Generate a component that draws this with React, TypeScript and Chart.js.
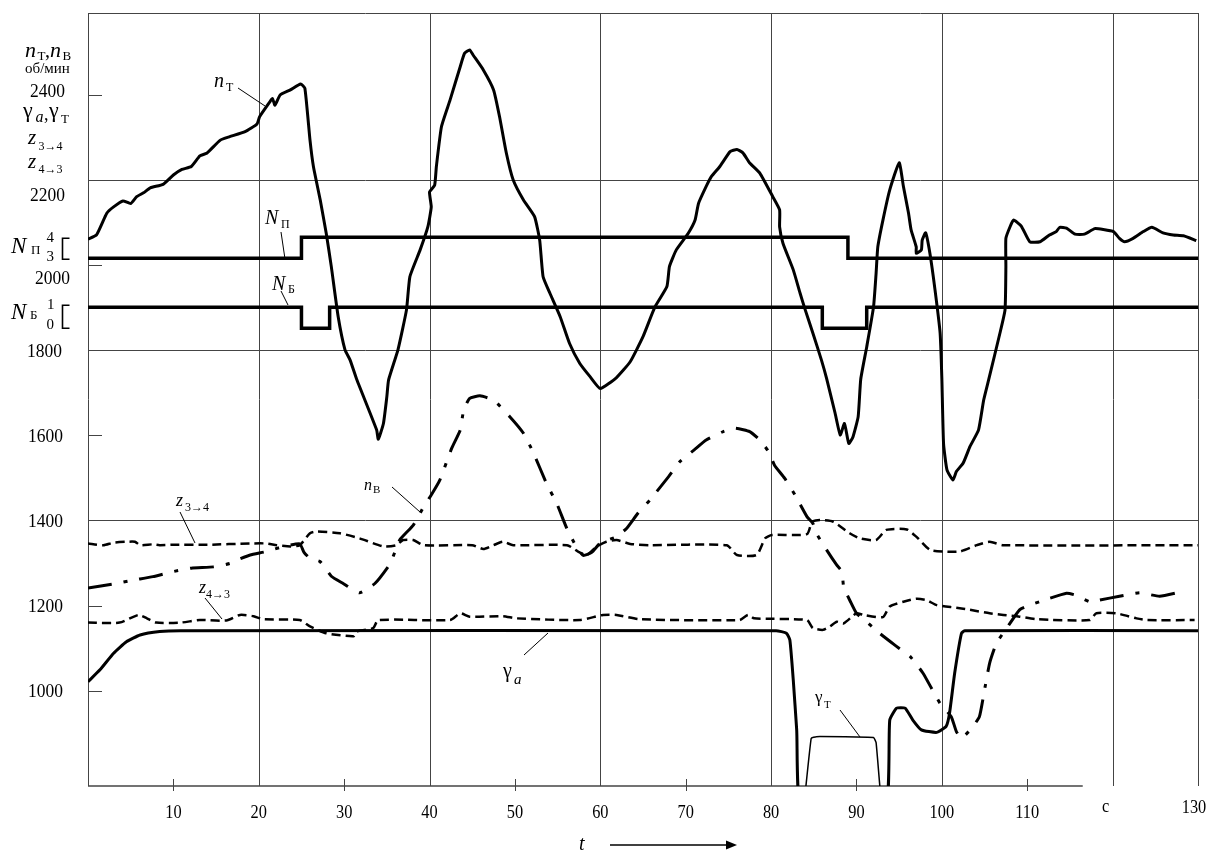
import React, { useEffect, useRef } from "react";
import { Chart, registerables } from "chart.js";

Chart.register(...registerables);

// ---------- data (t in seconds, values in chart units) ----------
const nT_t = [0,1.0,2.2,3.0,4.1,5.0,5.7,6.5,7.3,8.8,10.0,11.0,12.1,13.1,13.9,15.5,16.6,18.4,19.8,20.1,21.3,21.6,21.9,22.5,23.7,24.9,25.4,26.0,26.4,27.2,27.9,28.5,29.3,30.1,30.7,31.5,33.8,34.0,34.6,35.0,35.2,36.3,37.3,37.7,38.9,39.8,40.2,40.0,40.6,40.8,41.4,42.4,43.6,44.1,44.7,45.1,46.3,47.5,48.2,49.0,49.8,51.0,52.3,52.9,53.3,54.1,55.3,56.4,57.6,58.8,60.0,61.9,63.5,65.0,66.4,67.8,68.1,68.9,70.3,71.1,71.5,72.4,73.0,74.0,75.2,76.0,76.7,77.5,78.7,80.2,81.0,81.0,81.4,82.6,83.4,84.0,84.9,85.9,86.5,87.5,88.1,88.6,89.1,89.6,90.2,90.5,91.2,92.0,92.3,92.5,93.1,93.9,95.0,95.5,96.1,96.4,97.0,97.0,97.6,97.7,98.1,98.6,99.2,99.8,100.0,100.2,100.6,101.3,101.7,102.5,103.3,104.3,104.9,105.5,106.8,107.4,107.5,107.5,108.0,108.4,109.3,110.3,111.5,112.6,113.4,113.8,114.6,115.6,116.7,117.9,118.9,120.1,120.8,121.4,122.4,123.6,124.6,125.9,127.1,128.3,129.8];
const nT_v = [2061,2071,2122,2137,2151,2145,2161,2170,2182,2190,2212,2225,2232,2257,2263,2294,2302,2314,2332,2349,2384,2392,2376,2400,2412,2426,2416,2294,2232,2153,2075,1996,1879,1801,1777,1730,1613,1591,1628,1691,1730,1801,1895,1973,2036,2090,2137,2172,2188,2232,2326,2388,2467,2498,2506,2494,2459,2412,2349,2263,2200,2153,2114,2059,1973,1934,1879,1816,1769,1738,1710,1736,1773,1832,1902,1950,1997,2036,2075,2106,2145,2185,2208,2232,2267,2272,2264,2240,2216,2161,2130,2090,2051,1989,1934,1895,1840,1777,1734,1652,1601,1628,1581,1597,1644,1732,1808,1902,1981,2043,2106,2177,2241,2185,2122,2083,2043,2028,2036,2059,2076,2028,1942,1840,1734,1581,1519,1495,1515,1535,1574,1613,1683,1732,1840,1895,1996,2063,2091,2106,2092,2055,2055,2071,2079,2089,2087,2073,2073,2086,2084,2079,2063,2055,2063,2079,2089,2076,2071,2069,2058];

const nV_t = [0,3.0,5.3,7.6,10.0,12.1,14.7,16.6,17.4,19.0,20.9,22.9,24.8,25.3,26.0,27.2,28.5,29.8,31.8,33.6,35.4,36.5,38.1,39.3,40.2,41.2,42.6,43.6,44.0,44.7,45.9,47.5,49.4,51.0,52.1,53.7,54.9,56.0,57.2,58.0,59.0,60.0,61.9,63.1,64.4,65.8,68.0,69.3,71.0,72.4,74.4,75.8,77.5,78.7,79.7,80.4,81.6,82.8,84.2,84.9,85.3,86.5,87.7,88.3,88.5,89.3,90.0,91.2,92.7,94.5,96.3,97.8,99.0,99.8,101.1,101.7,102.3,103.5,104.4,105.0,105.6,106.4,107.6,109.1,110.3,112.6,114.6,115.6,117.3,118.5,120.8,123.2,125.5,128.6];
const nV_v = [1241,1251,1260,1268,1280,1288,1291,1299,1307,1319,1327,1339,1345,1325,1311,1303,1269,1253,1230,1252,1299,1354,1389,1432,1460,1495,1570,1613,1660,1687,1693,1683,1644,1605,1562,1487,1440,1385,1338,1318,1325,1347,1362,1382,1417,1448,1503,1538,1566,1589,1609,1617,1609,1589,1562,1530,1499,1460,1409,1393,1370,1331,1295,1280,1244,1209,1182,1162,1135,1107,1080,1041,998,970,939,904,888,912,939,1002,1065,1112,1147,1190,1201,1217,1229,1225,1209,1213,1222,1230,1222,1235];

const z34_t = [0,1.8,3.0,4.5,5.5,6.1,7.6,8.4,10.0,14.0,19.0,20.9,22.1,23.7,24.8,26.0,26.8,29.5,31.8,34.6,36.1,36.9,38.1,39.3,45.0,46.3,47.5,48.6,49.8,56.1,57.4,58.4,59.6,60.7,61.9,63.5,65.8,74.8,76.0,78.3,79.3,80.1,84.2,84.8,85.7,87.3,89.2,90.4,92.3,93.5,95.9,97.0,98.6,100.2,102.1,104.1,105.6,107.2,130];
const z34_v = [1346,1342,1348,1350,1350,1342,1344,1342,1343,1343,1346,1346,1342,1339,1342,1370,1374,1370,1358,1339,1342,1354,1354,1342,1342,1333,1342,1350,1342,1342,1327,1319,1339,1350,1354,1345,1342,1342,1319,1319,1358,1366,1368,1397,1401,1397,1370,1358,1354,1378,1379,1362,1331,1327,1327,1342,1350,1342,1342];

const z43_t = [0,3.7,5.9,6.9,8.0,10.8,13.1,16.2,17.8,19.4,20.5,24.8,26.0,27.9,31.1,31.5,33.4,34.0,42.4,43.6,44.7,48.6,50.2,57.6,60.3,61.9,64.6,76.3,77.3,78.0,84.2,84.9,86.1,86.9,87.7,88.5,90.0,90.8,93.1,93.9,95.5,97.0,98.2,99.4,101.7,103.3,105.6,107.2,109.1,111.1,117.3,118.1,120.4,122.8,124.0,129.6];
const z43_v = [1160,1160,1178,1170,1160,1160,1166,1165,1178,1175,1168,1166,1151,1135,1128,1139,1147,1166,1166,1182,1174,1175,1170,1166,1178,1178,1168,1166,1178,1170,1166,1147,1143,1151,1162,1158,1182,1178,1173,1198,1209,1216,1213,1201,1195,1190,1182,1178,1174,1168,1166,1182,1182,1170,1166,1166];

const gA_t = [0,1.4,3.0,4.5,6.1,8.4,10.8,80.6,81.8,82.2,82.6,83.0,83.7,93.2,93.9,94.7,95.7,96.6,97.6,99.4,100.5,100.9,101.5,102.3,102.7,130];
const gA_v = [1021,1049,1088,1115,1131,1139,1141,1141,1135,1119,1025,908,700,700,931,959,959,931,908,902,916,947,1041,1135,1141,1141];

const gT_t = [84.0,84.7,85.3,92.0,92.3,92.8];
const gT_v = [760,888,892,890,878,760];

const NP_t = [0,25,89,130];
const NP_v = [3,4,3,3];
const NB_t = [0,25,28.3,86,91.2,130];
const NB_v = [1,0,1,0,1,1];

const xGridValues = [0,20,40,60,80,100,120,130];
const xTickMarks = [10,30,50,70,90,110];
const xTickValues = [10,20,30,40,50,60,70,80,90,100,110,120,130];
const xTickLabels = ["10","20","30","40","50","60","70","80","90","100","110","c","130"];
const yGridValues = [2200,1800,1400];
const yTickMarks = [2400,2000,1800,1600,1200,1000];
const yTickValues = [2400,2200,2000,1800,1600,1400,1200,1000];
const yTickLabels = ["2400","2200","2000","1800","1600","1400","1200","1000"];

const FONT = '"Liberation Serif", "Times New Roman", serif';

const xy = (ts: number[], vs: number[]) => ts.map((t, i) => ({ x: t, y: vs[i] }));

type TextItem = { s: string; x: number; y: number; size: number; it?: boolean };

// left-margin annotations
const leftTexts: TextItem[] = [
  { s: "n", x: 25, y: 57, size: 22, it: true },
  { s: "Т", x: 37.5, y: 60, size: 13 },
  { s: ",", x: 45, y: 57, size: 20 },
  { s: "n", x: 50, y: 57, size: 22, it: true },
  { s: "В", x: 62.5, y: 60, size: 13 },
  { s: "об/мин", x: 25, y: 73, size: 15 },
  { s: "γ", x: 23, y: 117, size: 22 },
  { s: "a", x: 35.5, y: 122, size: 16, it: true },
  { s: ",", x: 44, y: 120, size: 18 },
  { s: "γ", x: 49, y: 117, size: 22 },
  { s: "Т", x: 61, y: 123, size: 13 },
  { s: "z", x: 28, y: 144, size: 21, it: true },
  { s: "3→4", x: 38.5, y: 150, size: 12 },
  { s: "z", x: 28, y: 168, size: 21, it: true },
  { s: "4→3", x: 38.5, y: 173, size: 12 },
  { s: "N", x: 11, y: 253, size: 23, it: true },
  { s: "П", x: 31, y: 254, size: 13 },
  { s: "4", x: 46.5, y: 242, size: 15 },
  { s: "3", x: 46.5, y: 261, size: 15 },
  { s: "N", x: 11, y: 319, size: 23, it: true },
  { s: "Б", x: 30, y: 319, size: 13 },
  { s: "1", x: 47, y: 309, size: 15 },
  { s: "0", x: 46.5, y: 329, size: 15 },
];

// in-plot curve labels
const plotTexts: TextItem[] = [
  { s: "n", x: 214, y: 87, size: 20, it: true },
  { s: "Т", x: 226, y: 91, size: 12 },
  { s: "N", x: 265, y: 224, size: 20, it: true },
  { s: "П", x: 281, y: 228, size: 12 },
  { s: "N", x: 272, y: 290, size: 20, it: true },
  { s: "Б", x: 288, y: 293, size: 12 },
  { s: "n", x: 364, y: 490, size: 16, it: true },
  { s: "В", x: 373, y: 493, size: 11 },
  { s: "γ", x: 503, y: 677, size: 20 },
  { s: "a", x: 514, y: 684, size: 15, it: true },
  { s: "z", x: 176, y: 506, size: 18, it: true },
  { s: "3→4", x: 185, y: 511, size: 12 },
  { s: "z", x: 199, y: 593, size: 18, it: true },
  { s: "4→3", x: 206, y: 598, size: 12 },
  { s: "γ", x: 815, y: 702, size: 17 },
  { s: "Т", x: 824, y: 708, size: 11 },
];

const leaders = [
  [238, 88, 265, 106],
  [281, 232, 285, 259],
  [281, 291, 288, 305],
  [392, 487, 420, 512],
  [524, 655, 548, 633],
  [180, 512, 195, 543],
  [205, 598, 222, 619],
  [840, 710, 860, 737],
];

const yLabelShift: Record<string, number> = { "2400": -4, "2200": 14, "2000": 12.5, "1800": 0.5 };
const yLabelRight: Record<string, number> = { "2400": 65, "2200": 65, "2000": 70, "1800": 62 };

function line(ctx: CanvasRenderingContext2D, x1: number, y1: number, x2: number, y2: number) {
  ctx.beginPath();
  ctx.moveTo(x1, y1);
  ctx.lineTo(x2, y2);
  ctx.stroke();
}

function drawTexts(ctx: CanvasRenderingContext2D, items: TextItem[]) {
  ctx.fillStyle = "#000";
  ctx.textAlign = "left";
  ctx.textBaseline = "alphabetic";
  for (const t of items) {
    ctx.font = `${t.it ? "italic " : ""}${t.size}px ${FONT}`;
    ctx.fillText(t.s, t.x, t.y);
  }
}

function narrowText(ctx: CanvasRenderingContext2D, s: string, x: number, y: number, sx: number) {
  ctx.save();
  ctx.translate(x, y);
  ctx.scale(sx, 1);
  ctx.fillText(s, 0, 0);
  ctx.restore();
}

const decor = {
  id: "decor",
  beforeDatasetsDraw(chart: any) {
    const { ctx, chartArea: a, scales } = chart;
    const sx = scales.x;
    const sy = scales.y;
    ctx.save();
    ctx.strokeStyle = "#444";
    ctx.lineWidth = 1;
    for (const t of xGridValues) {
      const px = Math.round(sx.getPixelForValue(t)) + 0.5;
      line(ctx, px, a.top, px, a.bottom);
    }
    const topY = Math.round(a.top) + 0.5;
    line(ctx, a.left, topY, a.right, topY);
    for (const v of yGridValues) {
      const py = Math.round(sy.getPixelForValue(v)) + 0.5;
      line(ctx, a.left, py, a.right, py);
    }
    ctx.lineWidth = 1.5;
    line(ctx, a.left, a.bottom, sx.getPixelForValue(116.5), a.bottom);
    ctx.lineWidth = 1;
    for (const t of xTickMarks) {
      const px = Math.round(sx.getPixelForValue(t)) + 0.5;
      line(ctx, px, a.bottom - 7, px, a.bottom + 5);
    }
    for (const v of yTickMarks) {
      const py = Math.round(sy.getPixelForValue(v)) + 0.5;
      line(ctx, a.left, py, a.left + 14, py);
    }
    ctx.restore();
  },
  afterDraw(chart: any) {
    const { ctx, chartArea: a, scales } = chart;
    const sx = scales.x;
    const sy = scales.y;
    const snp = scales.yNP;
    const snb = scales.yNB;
    ctx.save();
    // y tick labels
    ctx.fillStyle = "#000";
    ctx.font = `19px ${FONT}`;
    ctx.textAlign = "right";
    ctx.textBaseline = "alphabetic";
    yTickValues.forEach((v, i) => {
      const lab = yTickLabels[i];
      const y = sy.getPixelForValue(v) + 6.5 + (yLabelShift[lab] || 0);
      narrowText(ctx, lab, yLabelRight[lab] || 63, y, 0.92);
    });
    // x tick labels
    ctx.font = `19px ${FONT}`;
    ctx.textAlign = "center";
    xTickValues.forEach((t, i) => {
      const lab = xTickLabels[i];
      let x = sx.getPixelForValue(t);
      let y = a.bottom + 32;
      if (lab === "c") { x -= 7; y -= 6; }
      if (lab === "130") { x -= 4; y -= 5; }
      narrowText(ctx, lab, x, y, 0.86);
    });
    // brackets for N levels
    ctx.strokeStyle = "#000";
    ctx.lineWidth = 1.6;
    const br = (yTop: number, yBot: number) => {
      ctx.beginPath();
      ctx.moveTo(69.5, yTop);
      ctx.lineTo(62.5, yTop);
      ctx.lineTo(62.5, yBot);
      ctx.lineTo(69.5, yBot);
      ctx.stroke();
    };
    br(snp.getPixelForValue(4) + 1, snp.getPixelForValue(3) + 1);
    br(snb.getPixelForValue(1) - 2, snb.getPixelForValue(0));
    drawTexts(ctx, leftTexts);
    drawTexts(ctx, plotTexts);
    // leader lines
    ctx.lineWidth = 1;
    for (const l of leaders) line(ctx, l[0], l[1], l[2], l[3]);
    // t arrow
    ctx.font = `italic 20px ${FONT}`;
    ctx.textAlign = "left";
    ctx.fillText("t", 579, 850);
    ctx.lineWidth = 1.5;
    line(ctx, 610, 845, 728, 845);
    ctx.beginPath();
    ctx.moveTo(737, 845);
    ctx.lineTo(726, 840.5);
    ctx.lineTo(726, 849.5);
    ctx.closePath();
    ctx.fill();
    ctx.restore();
  },
};

export default function App() {
  const ref = useRef<HTMLCanvasElement>(null);
  useEffect(() => {
    const common = { borderColor: "#000", pointRadius: 0, fill: false };
    const chart = new Chart(ref.current as HTMLCanvasElement, {
      type: "line",
      data: {
        datasets: [
          { ...common, label: "nT", data: xy(nT_t, nT_v), borderWidth: 3, tension: 0.15, yAxisID: "y" },
          { ...common, label: "nV", data: xy(nV_t, nV_v), borderWidth: 3, borderDash: [24, 12, 4, 12], tension: 0.15, yAxisID: "y" },
          { ...common, label: "z34", data: xy(z34_t, z34_v), borderWidth: 2.5, borderDash: [9, 5], tension: 0.2, yAxisID: "y" },
          { ...common, label: "z43", data: xy(z43_t, z43_v), borderWidth: 2.5, borderDash: [9, 5], tension: 0.2, yAxisID: "y" },
          { ...common, label: "gA", data: xy(gA_t, gA_v), borderWidth: 3, tension: 0.15, yAxisID: "y", clip: 0 },
          { ...common, label: "gT", data: xy(gT_t, gT_v), borderWidth: 1.5, tension: 0.1, yAxisID: "y", clip: 0 },
          { ...common, label: "NP", data: xy(NP_t, NP_v), borderWidth: 3.5, stepped: true, yAxisID: "yNP" },
          { ...common, label: "NB", data: xy(NB_t, NB_v), borderWidth: 3.5, stepped: true, yAxisID: "yNB" },
        ],
      } as any,
      options: {
        responsive: false,
        animation: false,
        devicePixelRatio: 1,
        layout: { padding: { left: 88, top: 13, right: 10, bottom: 68 } },
        plugins: { legend: { display: false }, tooltip: { enabled: false } },
        events: [],
        scales: {
          x: { type: "linear", min: 0, max: 130, display: false },
          y: { type: "linear", min: 776, max: 2592.7, display: false },
          yNP: { type: "linear", min: -22.13, max: 14.68, display: false },
          yNB: { type: "linear", min: -21.8, max: 15.01, display: false },
        },
      } as any,
      plugins: [decor],
    });
    return () => chart.destroy();
  }, []);
  return (
    <div style={{ position: "absolute", left: 0, top: 0, width: 1208, height: 854, background: "#fff" }}>
      <canvas ref={ref} width={1208} height={854} style={{ display: "block", width: 1208, height: 854 }} />
    </div>
  );
}
